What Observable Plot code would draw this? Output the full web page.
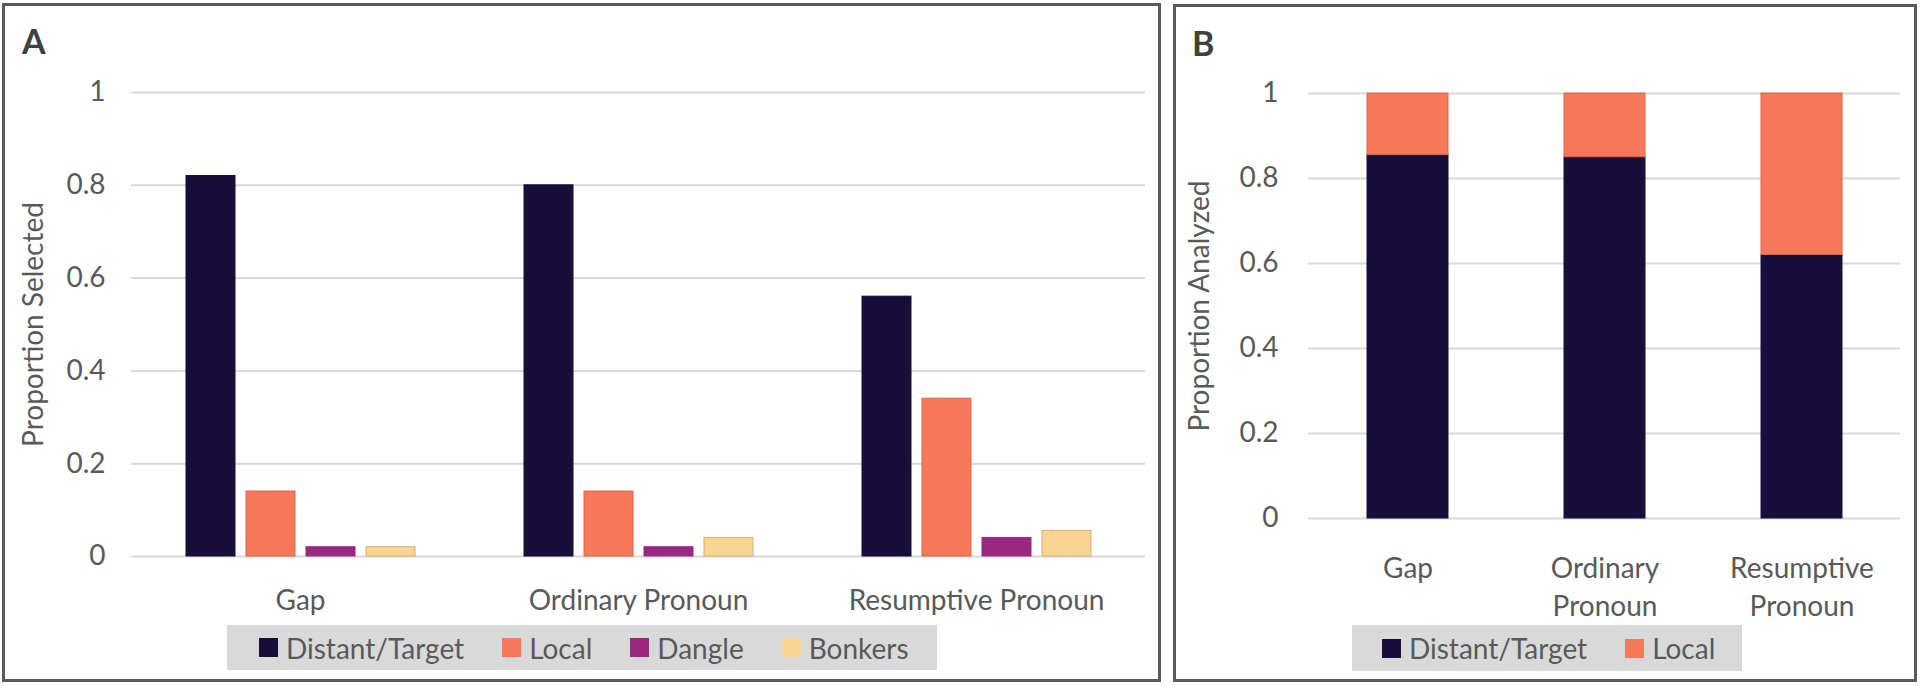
<!DOCTYPE html>
<html>
<head>
<meta charset="utf-8">
<script src="https://cdn.jsdelivr.net/npm/d3@7"></script>
<script src="https://cdn.jsdelivr.net/npm/@observablehq/plot@0.6"></script>
<style>
  html, body { margin: 0; padding: 0; background: #fff; }
  body { position: relative; width: 1920px; height: 686px; overflow: hidden; font-family: Lato, "Open Sans", sans-serif; }
  .panel { position: absolute; border: 3px solid #5a5a5a; box-sizing: border-box; }
  #panelA { left: 2px; top: 3px; width: 1159px; height: 679px; }
  #panelB { left: 1173px; top: 4px; width: 744px; height: 678px; }
  .tag { position: absolute; font-weight: 700; font-size: 34px; line-height: 1; color: #404040; }
  .chart { position: absolute; top: 0; }
  .legend { position: absolute; background: #d9d9d9; display: flex; align-items: center; box-sizing: border-box;
            font-size: 28px; color: #595959; white-space: nowrap; }
  .item { display: flex; align-items: center; margin-right: 38px; }
  .sw { width: 19px; height: 19px; margin-right: 8px; }
</style>
</head>
<body>
<div class="panel" id="panelA"></div>
<div class="panel" id="panelB"></div>
<div class="chart" id="chartA" style="left:0px"></div>
<div class="chart" id="chartB" style="left:1160px"></div>
<div class="tag" style="left:22px;top:24px">A</div>
<div class="tag" style="left:1192px;top:26px">B</div>
<div class="legend" id="legendA" style="left:227px;top:625px;width:710px;height:45px;padding-left:32px"></div>
<div class="legend" id="legendB" style="left:1352px;top:625px;width:390px;height:46px;padding-left:30px"></div>
<script>
// ---- data ----
const categories = ["Gap", "Ordinary Pronoun", "Resumptive Pronoun"];
const categoryLabelsB = ["Gap", "Ordinary\nPronoun", "Resumptive\nPronoun"];

const seriesA = ["Distant/Target", "Local", "Dangle", "Bonkers"];
const distantA = [0.82, 0.80, 0.56];
const localA   = [0.14, 0.14, 0.34];
const dangleA  = [0.02, 0.02, 0.04];
const bonkersA = [0.02, 0.04, 0.055];

const seriesB = ["Distant/Target", "Local"];
const distantB = [0.855, 0.85, 0.62];
const localB   = [0.145, 0.15, 0.38];

const yTicks = [0, 0.2, 0.4, 0.6, 0.8, 1];
const yTickLabels = ["0", "0.2", "0.4", "0.6", "0.8", "1"];

const colors  = ["#170e3a", "#f8785a", "#9a2881", "#fcd491"];
const strokes = ["#170e3a", "#d9664b", "#9a2881", "#d2b07c"];

// ---- tables ----
const valuesA = [distantA, localA, dangleA, bonkersA];
const rowsA = [];
categories.forEach((c, i) => seriesA.forEach((s, j) => rowsA.push({category: c, series: s, value: valuesA[j][i]})));
const valuesB = [distantB, localB];
const rowsB = [];
categories.forEach((c, i) => seriesB.forEach((s, j) => rowsB.push({category: c, series: s, value: valuesB[j][i]})));

const yFmt = d => yTickLabels[yTicks.indexOf(d)];
const textColor = "#595959";

// ---- chart A ----
const chartA = Plot.plot({
  width: 1160, height: 660,
  marginLeft: 130, marginRight: 15, marginTop: 92, marginBottom: 104,
  style: {background: "transparent", fontFamily: "Lato, sans-serif", fontSize: "28px", color: textColor},
  fx: {domain: categories, padding: 0, label: null, axis: "bottom", tickSize: 0, tickPadding: 34},
  x: {domain: seriesA, axis: null, paddingInner: 0.19, paddingOuter: 0.89},
  y: {domain: [0, 1]},
  color: {domain: seriesA, range: colors},
  marks: [
    Plot.gridY(yTicks, {stroke: "#d9d9d9", strokeOpacity: 1, strokeWidth: 2}),
    Plot.axisY(yTicks, {tickSize: 0, tickPadding: 26, tickFormat: yFmt, fontSize: 28,
      label: "Proportion Selected", labelAnchor: "center", labelOffset: 108, labelArrow: "none"}),
    Plot.barY(rowsA, {fx: "category", x: "series", y: "value", fill: "series",
      stroke: d => strokes[seriesA.indexOf(d.series)], strokeWidth: 1})
  ]
});
document.getElementById("chartA").appendChild(chartA);

// ---- chart B ----
const chartB = Plot.plot({
  width: 760, height: 660,
  marginLeft: 148, marginRight: 20, marginTop: 93, marginBottom: 142,
  style: {background: "transparent", fontFamily: "Lato, sans-serif", fontSize: "28px", color: textColor},
  x: {domain: categories, paddingInner: 0.59, paddingOuter: 0.295},
  y: {domain: [0, 1]},
  color: {domain: seriesB, range: colors.slice(0, 2)},
  marks: [
    Plot.gridY(yTicks, {stroke: "#d9d9d9", strokeOpacity: 1, strokeWidth: 2}),
    Plot.axisY(yTicks, {tickSize: 0, tickPadding: 30, tickFormat: yFmt, fontSize: 28,
      label: "Proportion Analyzed", labelAnchor: "center", labelOffset: 119, labelArrow: "none"}),
    Plot.axisX({tickSize: 0, tickPadding: 32, fontSize: 28, lineHeight: 1.36, label: null,
      tickFormat: d => categoryLabelsB[categories.indexOf(d)]}),
    Plot.barY(rowsB, {x: "category", y: "value", fill: "series",
      stroke: d => strokes[seriesB.indexOf(d.series)], strokeWidth: 1})
  ]
});
document.getElementById("chartB").appendChild(chartB);

// ---- legends ----
function legend(id, names) {
  const el = document.getElementById(id);
  names.forEach((n, i) => {
    const item = document.createElement("div");
    item.className = "item";
    const sw = document.createElement("div");
    sw.className = "sw";
    sw.style.background = colors[i];
    const t = document.createElement("span");
    t.textContent = n;
    item.appendChild(sw); item.appendChild(t);
    el.appendChild(item);
  });
}
legend("legendA", seriesA);
legend("legendB", seriesB);
</script>
</body>
</html>
